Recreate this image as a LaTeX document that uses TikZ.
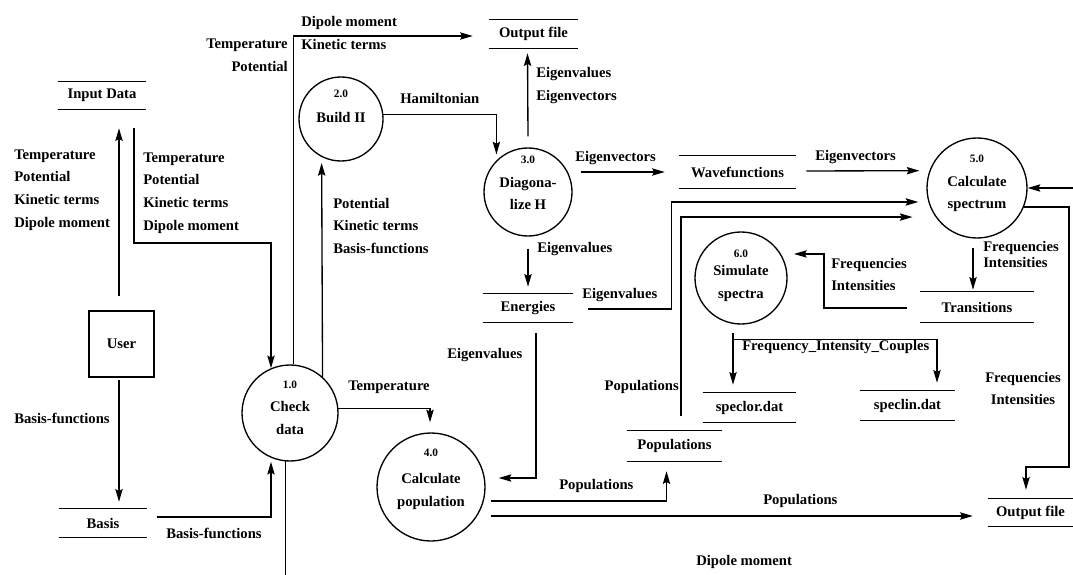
\documentclass[tikz,border=0pt]{standalone}
\usepackage{fontspec}
\setmainfont{Liberation Serif}
\usetikzlibrary{calc,arrows.meta}
\newcommand\lblfont{\fontsize{11}{17}\selectfont\bfseries}
\newcommand\tightfont{\fontsize{11}{11.5}\selectfont\bfseries}
\newcommand\numfont{\fontsize{8.5}{9}\selectfont\bfseries}
\tikzset{
  ln/.style={line width=1pt},
  arr/.style={line width=1pt, -{Stealth[length=9.5pt,width=5.5pt,inset=1.5pt]}},
  lbl/.style={font=\lblfont, inner sep=0pt},
  proc/.style={circle, draw, line width=1pt, inner sep=0pt},
  pnum/.style={font=\numfont, inner sep=0pt},
  ptxt/.style={font=\lblfont, align=center, inner sep=0pt},
  store/.style={font=\lblfont, inner sep=0pt},
  entity/.style={draw, line width=1pt, font=\lblfont, inner sep=0pt}
}
\begin{document}
\begin{tikzpicture}[x=0.75pt,y=-0.75pt]
\fill[white] (0,0) rectangle (1073,574);
\useasboundingbox (0,0) rectangle (1073,574);

% processes
\node[proc, minimum size=72pt] (p1) at (290,413) {};
\node[pnum] (p1n) at (290,385) {1.0};
\node[ptxt] (p1t) at (290,418) {Check\\data};
\node[proc, minimum size=63pt] (p2) at (341,119) {};
\node[pnum] (p2n) at (341,94) {2.0};
\node[ptxt] (p2t) at (341,118) {Build II};
\node[proc, minimum size=66pt] (p3) at (528,192) {};
\node[pnum] (p3n) at (528,160) {3.0};
\node[ptxt] (p3t) at (528,193.5) {Diagona-\\lize H};
\node[proc, minimum size=81pt] (p4) at (431,487) {};
\node[pnum] (p4n) at (431,453) {4.0};
\node[ptxt] (p4t) at (431,491.5) {Calculate\\population};
\node[proc, minimum size=75pt] (p5) at (977,188) {};
\node[pnum] (p5n) at (977,159) {5.0};
\node[ptxt] (p5t) at (977,194) {Calculate\\spectrum};
\node[proc, minimum size=69pt] (p6) at (741,278) {};
\node[pnum] (p6n) at (741,254) {6.0};
\node[ptxt] (p6t) at (741,283.5) {Simulate\\spectra};

% entity
\node[entity, minimum width=48.75pt, minimum height=49.5pt] (user) at (121.5,344) {User};

% data stores
\node[store, minimum width=66pt, minimum height=20.25pt] (indata) at (102,95.5) {Input Data};
\node[store, minimum width=66.75pt, minimum height=21pt] (outtop) at (533.5,34) {Output file};
\node[store, minimum width=87.75pt, minimum height=24pt] (wavef) at (737.5,172) {Wavefunctions};
\node[store, minimum width=67.5pt, minimum height=21pt] (energies) at (528,308) {Energies};
\node[store, minimum width=85.5pt, minimum height=22.5pt] (transitions) at (977,307) {Transitions};
\node[store, minimum width=69.75pt, minimum height=21.75pt] (speclor) at (749.5,407.5) {speclor.dat};
\node[store, minimum width=71.25pt, minimum height=21.75pt] (speclin) at (907.5,405.5) {speclin.dat};
\node[store, minimum width=71.25pt, minimum height=22.5pt] (popstore) at (674.5,446) {Populations};
\node[store, minimum width=63.75pt, minimum height=20.25pt] (outbot) at (1030.5,512.5) {Output file};
\node[store, minimum width=66pt, minimum height=21pt] (basis) at (103,523) {Basis};
\foreach \s in {indata,outtop,wavef,energies,transitions,speclor,speclin,popstore,outbot,basis}
  \draw[ln] (\s.north west) -- (\s.north east) (\s.south west) -- (\s.south east);

\coordinate (rin) at (1073,188);
\coordinate (pbot) at (286,576);

% connectors
\draw[arr] ($(user.north)+(-2.5,-14)$) -- ($(indata.south)+(17,19)$);
\draw[arr] ($(indata.south)+(32,19)$) |- (p1.113 |- 0,243) -- (p1.113);
\draw[arr] (p1.86) |- ($(outtop.west)+(-16,2)$);
\draw[arr] (p1.48) -- ($(p2.-117)+(0,6)$);
\draw[arr] (p2.6) -| ($(p3.135)+(0,-6)$);
\draw[arr] ($(p3.north)+(0,-11)$) -- ($(outtop.south)+(-6,5)$);
\draw[arr] ($(p3.south)+(0,12)$) -- ($(energies.north)+(0,-7)$);
\draw[arr] ($(p3.east)+(8,-20)$) -- ($(wavef.west)+(-14,0)$);
\draw[arr] ($(wavef.east)+(10,-1)$) -- ($(p5.160)+(-10,0)$);
\draw[arr] ($(energies.east)+(15,1)$) -| ($(p5.196)+(-257,0)$) -- ($(p5.196)+(-10,0)$);
\draw[arr] ($(popstore.north)+(6.5,-15)$) |- ($(p5.215)+(-23,0)$);
\draw[arr] ($(p5.south)+(-4,9)$) -- ($(transitions.north)+(-4,-2)$);
\draw[arr] ($(transitions.west)+(-13,1)$) -| ($(p6.31)+(43,0)$) -- ($(p6.31)+(13,0)$);
\draw[arr] ($(p6.south)+(-8,8)$) -- ($(speclor.north)+(-16.5,-8)$);
\draw[arr] ($(p6.south)+(-8,15)$) -| ($(speclin.north)+(29.5,-8)$);
\draw[arr] (p5.-22) -| (1069,467) -| ($(outbot.north)+(-4.5,-9)$);
\draw[arr] (rin) -- (p5.east);
\draw[arr] ($(energies.south)+(8,11)$) |- ($(p4.east)+(13,-9)$);
\draw[arr] ($(p4.east)+(5,14)$) -| ($(popstore.south)+(-8,10)$);
\draw[arr] ($(p4.east)+(5,29)$) -- ($(outbot.west)+(-15,3.5)$);
\draw[arr] (p1.5) -| ($(p4.north)+(-1,-10)$);
\draw[arr] ($(basis.east)+(10,-6)$) -| ($(p1.-113)+(0,4)$);
\draw[arr] ($(user.south)+(-2.5,2)$) -- ($(basis.north)+(16,-7)$);
\draw[ln] (p1.-95) -- (p1.-95 |- pbot);

% labels
\node[lbl, anchor=west, align=left] (l1) at (14,190) {Temperature\\Potential\\Kinetic terms\\Dipole moment};
\node[lbl, anchor=west, align=left] (l2) at (143,193) {Temperature\\Potential\\Kinetic terms\\Dipole moment};
\node[lbl, anchor=east, align=right] (l3) at (288,55) {Temperature\\Potential};
\node[lbl, anchor=west, align=left] (l4) at (301,33) {Dipole moment\\Kinetic terms};
\node[lbl, anchor=west] (l5) at (400,98) {Hamiltonian};
\node[lbl, anchor=west, align=left] (l6) at (333,225.7) {Potential\\Kinetic terms\\Basis-functions};
\node[lbl, anchor=west, align=left] (l7) at (536,85.5) {Eigenvalues\\Eigenvectors};
\node[lbl, anchor=west] (l8) at (575,158) {Eigenvectors};
\node[lbl, anchor=west] (l9) at (537,249) {Eigenvalues};
\node[lbl, anchor=west] (l10) at (815,157) {Eigenvectors};
\node[lbl, anchor=west] (l11) at (582,295) {Eigenvalues};
\node[lbl, font=\tightfont, anchor=west, align=left] (l12) at (983,254.5) {Frequencies\\Intensities};
\node[lbl, anchor=west, align=left] (l13) at (831,274.5) {Frequencies\\Intensities};
\node[lbl, anchor=east] (l14) at (679,387) {Populations};
\node[lbl, anchor=west] (l15) at (742,347) {Frequency\_Intensity\_Couples};
\node[lbl, align=center] (l16) at (1023,388.5) {Frequencies\\Intensities};
\node[lbl, anchor=west] (l17) at (447,355) {Eigenvalues};
\node[lbl, anchor=west] (l18) at (348,387) {Temperature};
\node[lbl, anchor=west] (l19) at (559,486) {Populations};
\node[lbl, anchor=west] (l20) at (763,501) {Populations};
\node[lbl, anchor=west] (l21) at (696,562) {Dipole moment};
\node[lbl, anchor=west] (l22) at (14,418) {Basis-functions};
\node[lbl, anchor=west] (l23) at (166,533) {Basis-functions};
\end{tikzpicture}
\end{document}
